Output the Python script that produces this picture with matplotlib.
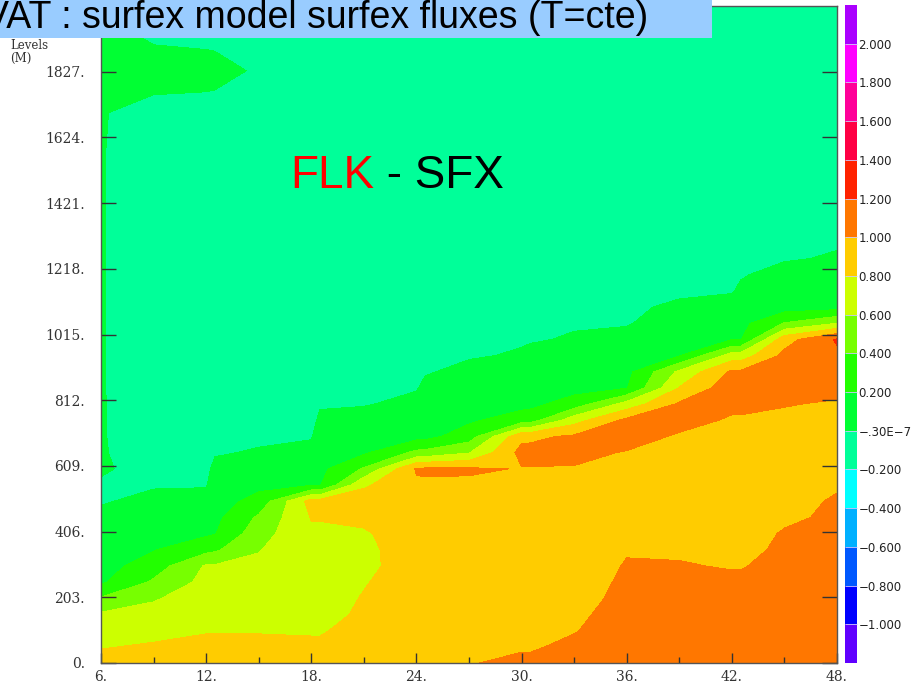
import matplotlib
matplotlib.use("Agg")
import matplotlib.pyplot as plt
from matplotlib.patches import Rectangle
import numpy as np

# forecast hours of the output columns
hours = [6, 9, 12, 12.5, 15, 18, 18.5, 21, 24, 24.5, 27, 30, 30.5, 33, 36, 39, 42, 42.5, 45, 48]

# model heights (m), bottom to top
heights = [0, 50, 100, 150, 200, 250, 300, 350, 400, 450, 500, 550, 600, 650, 700,
           750, 800, 850, 900, 950, 1000, 1050, 1100, 1150, 1200, 1250, 1300,
           1400, 1550, 1700, 1830, 1950, 2030]

# FLK - SFX difference, one profile per forecast hour (same order as hours)
diff = [
    [0.86, 0.79, 0.72, 0.63, 0.42, 0.17, 0.12, 0.09, 0.06, 0.03, -0.01, -0.01, 0.01, 0.01, 0.01, 0.01, 0.01,
     0.01, 0.01, 0.01, 0.01, 0.01, 0.01, 0.01, 0.01, 0.01, 0.01, 0.01, 0.01, 0.01, 0.10, 0.06, 0.03],
    [0.87, 0.82, 0.75, 0.67, 0.58, 0.43, 0.30, 0.19, 0.14, 0.08, 0.03, -0.01, -0.03, -0.06, -0.08, -0.09, -0.09,
     -0.10, -0.11, -0.11, -0.12, -0.12, -0.12, -0.12, -0.12, -0.12, -0.12, -0.12, -0.12, -0.06, 0.08, -0.04, -0.08],
    [0.88, 0.84, 0.79, 0.75, 0.71, 0.66, 0.62, 0.34, 0.17, 0.11, 0.05, -0.01, -0.03, -0.06, -0.08, -0.09, -0.09,
     -0.10, -0.11, -0.11, -0.12, -0.12, -0.12, -0.12, -0.12, -0.12, -0.12, -0.12, -0.12, -0.06, 0.06, -0.05, -0.09],
    [0.88, 0.84, 0.79, 0.75, 0.71, 0.67, 0.62, 0.37, 0.19, 0.15, 0.11, 0.07, 0.03, -0.01, -0.03, -0.05, -0.07,
     -0.08, -0.09, -0.09, -0.10, -0.10, -0.11, -0.11, -0.11, -0.12, -0.12, -0.12, -0.12, -0.06, 0.05, -0.05, -0.09],
    [0.88, 0.84, 0.79, 0.75, 0.72, 0.68, 0.64, 0.59, 0.52, 0.43, 0.27, 0.15, 0.08, 0.01, -0.02, -0.04, -0.06,
     -0.07, -0.08, -0.08, -0.09, -0.09, -0.10, -0.10, -0.10, -0.11, -0.11, -0.11, -0.11, -0.11, -0.02, -0.08, -0.10],
    [0.86, 0.82, 0.79, 0.76, 0.73, 0.70, 0.72, 0.75, 0.77, 0.81, 0.88, 0.19, 0.12, 0.04, -0.01, -0.03, -0.05,
     -0.06, -0.07, -0.07, -0.08, -0.08, -0.09, -0.09, -0.09, -0.10, -0.10, -0.10, -0.10, -0.10, -0.10, -0.10, -0.10],
    [0.86, 0.82, 0.79, 0.76, 0.73, 0.70, 0.72, 0.75, 0.77, 0.81, 0.88, 0.19, 0.15, 0.11, 0.06, 0.02, -0.01,
     -0.03, -0.05, -0.06, -0.07, -0.07, -0.08, -0.09, -0.09, -0.10, -0.10, -0.10, -0.10, -0.10, -0.10, -0.10, -0.10],
    [0.87, 0.85, 0.84, 0.82, 0.81, 0.79, 0.76, 0.76, 0.78, 0.84, 0.91, 0.77, 0.42, 0.17, 0.11, 0.06, -0.01,
     -0.02, -0.03, -0.05, -0.06, -0.06, -0.07, -0.08, -0.08, -0.09, -0.09, -0.10, -0.10, -0.10, -0.10, -0.10, -0.10],
    [0.90, 0.90, 0.89, 0.89, 0.88, 0.88, 0.88, 0.89, 0.90, 0.91, 0.92, 0.97, 1.02, 0.45, 0.13, 0.10, 0.04,
     -0.01, -0.02, -0.04, -0.05, -0.05, -0.06, -0.07, -0.07, -0.08, -0.08, -0.09, -0.09, -0.10, -0.10, -0.10, -0.10],
    [0.90, 0.90, 0.89, 0.89, 0.88, 0.88, 0.88, 0.89, 0.90, 0.91, 0.92, 0.97, 1.03, 0.46, 0.14, 0.12, 0.08,
     0.03, -0.01, -0.03, -0.05, -0.05, -0.06, -0.07, -0.07, -0.08, -0.08, -0.09, -0.09, -0.10, -0.10, -0.10, -0.10],
    [0.99, 0.95, 0.90, 0.89, 0.89, 0.88, 0.88, 0.89, 0.90, 0.91, 0.92, 0.96, 1.03, 0.59, 0.30, 0.17, 0.12,
     0.08, 0.03, -0.01, -0.02, -0.04, -0.05, -0.05, -0.06, -0.06, -0.07, -0.08, -0.08, -0.08, -0.09, -0.09, -0.09],
    [1.04, 0.98, 0.92, 0.91, 0.90, 0.90, 0.89, 0.90, 0.91, 0.92, 0.93, 0.96, 0.99, 1.06, 0.95, 0.30, 0.14,
     0.11, 0.06, 0.01, -0.01, -0.03, -0.04, -0.04, -0.05, -0.05, -0.06, -0.07, -0.07, -0.07, -0.08, -0.08, -0.08],
    [1.04, 0.98, 0.92, 0.91, 0.90, 0.90, 0.89, 0.90, 0.91, 0.92, 0.93, 0.96, 0.99, 1.06, 0.96, 0.31, 0.15,
     0.12, 0.08, 0.03, -0.01, -0.02, -0.03, -0.04, -0.04, -0.05, -0.05, -0.06, -0.06, -0.07, -0.07, -0.08, -0.08],
    [1.08, 1.04, 0.99, 0.96, 0.92, 0.92, 0.92, 0.92, 0.92, 0.94, 0.96, 0.97, 0.99, 1.04, 1.03, 0.72, 0.29,
     0.13, 0.10, 0.06, 0.01, -0.01, -0.02, -0.03, -0.04, -0.04, -0.05, -0.06, -0.06, -0.07, -0.07, -0.08, -0.08],
    [1.15, 1.13, 1.10, 1.08, 1.06, 1.03, 1.01, 0.99, 0.96, 0.93, 0.93, 0.93, 0.93, 0.99, 1.07, 1.05, 0.68,
     0.19, 0.14, 0.09, 0.04, -0.01, -0.01, -0.02, -0.03, -0.04, -0.04, -0.05, -0.05, -0.06, -0.06, -0.07, -0.07],
    [1.18, 1.15, 1.12, 1.09, 1.06, 1.03, 1.01, 0.98, 0.95, 0.93, 0.94, 0.94, 0.94, 0.95, 0.98, 1.06, 1.03,
     0.81, 0.64, 0.19, 0.13, 0.07, 0.01, -0.01, -0.01, -0.02, -0.03, -0.04, -0.04, -0.04, -0.05, -0.05, -0.06],
    [1.20, 1.17, 1.13, 1.10, 1.06, 1.03, 0.99, 0.97, 0.95, 0.93, 0.93, 0.94, 0.94, 0.95, 0.95, 0.98, 1.04,
     1.12, 1.03, 0.69, 0.19, 0.12, 0.05, -0.01, -0.01, -0.02, -0.02, -0.03, -0.04, -0.04, -0.04, -0.05, -0.05],
    [1.20, 1.17, 1.13, 1.10, 1.06, 1.03, 0.99, 0.97, 0.95, 0.93, 0.93, 0.94, 0.94, 0.95, 0.95, 0.98, 1.04,
     1.12, 1.03, 0.69, 0.19, 0.14, 0.08, 0.02, -0.01, -0.01, -0.02, -0.03, -0.04, -0.04, -0.04, -0.05, -0.05],
    [1.17, 1.15, 1.13, 1.11, 1.09, 1.07, 1.05, 1.02, 1.01, 0.98, 0.97, 0.95, 0.93, 0.94, 0.95, 0.96, 1.01,
     1.10, 1.12, 1.05, 0.92, 0.41, 0.11, 0.08, 0.04, -0.01, -0.01, -0.02, -0.02, -0.03, -0.03, -0.04, -0.04],
    [1.15, 1.14, 1.12, 1.11, 1.09, 1.08, 1.07, 1.05, 1.04, 1.02, 1.01, 0.99, 0.98, 0.96, 0.94, 0.96, 0.98,
     1.05, 1.12, 1.17, 1.22, 0.60, 0.12, 0.08, 0.05, 0.01, -0.01, -0.01, -0.02, -0.02, -0.03, -0.03, -0.03],
]

# contour bands (one colour per interval, the outer two are open-ended)
levels = [-1.2, -1.0, -0.8, -0.6, -0.4, -0.2, 0.0, 0.2, 0.4, 0.6, 0.8,
          1.0, 1.2, 1.4, 1.6, 1.8, 2.0, 2.2]
band_colors = ["#6000ff", "#0000ff", "#0058ff", "#00b0ff", "#00ffff", "#00ff99",
               "#00ff33", "#22ff00", "#77ff00", "#ccff00", "#ffcc00", "#ff7700",
               "#ff2200", "#ff0044", "#ff0099", "#ff00ff", "#aa00ff"]
cbar_ticks = [-1.0, -0.8, -0.6, -0.4, -0.2, 0.0, 0.2, 0.4, 0.6, 0.8,
              1.0, 1.2, 1.4, 1.6, 1.8, 2.0]
cbar_labels = ["\u22121.000", "\u22120.800", "\u22120.600", "\u22120.400", "\u22120.200",
               "\u2212.30E\u22127", "0.200", "0.400", "0.600", "0.800",
               "1.000", "1.200", "1.400", "1.600", "1.800", "2.000"]

y_ticks = [0, 203, 406, 609, 812, 1015, 1218, 1421, 1624, 1827]
y_labels = ["0.", "203.", "406.", "609.", "812.", "1015.", "1218.", "1421.", "1624.", "1827."]
x_ticks = [6, 12, 18, 24, 30, 36, 42, 48]
x_labels = ["6.", "12.", "18.", "24.", "30.", "36.", "42.", "48."]
x_minor = [9, 15, 21, 27, 33, 39, 45]

W, H = 916, 692
fig = plt.figure(figsize=(W / 100, H / 100), dpi=100)
fig.patch.set_facecolor("white")

ax = fig.add_axes([101 / W, 1 - 663 / H, 736 / W, 657 / H])
Z = np.array(diff).T
cs = ax.contourf(hours, heights, Z, levels=levels, colors=band_colors)
ax.set_xlim(6, 48)
ax.set_ylim(0, 2030)

tick_font = dict(family="DejaVu Serif", size=10, color="#333333")
ax.set_xticks(x_ticks)
ax.set_xticklabels(x_labels, fontdict=tick_font)
ax.set_xticks(x_minor, minor=True)
ax.set_yticks(y_ticks)
ax.set_yticklabels(y_labels, fontdict=tick_font)
ax.tick_params(axis="x", which="major", direction="in", length=7, width=1,
               color="#333333", pad=5)
ax.tick_params(axis="x", which="minor", direction="in", length=4, width=1,
               color="#333333")
ax.tick_params(axis="y", which="major", direction="in", length=11, width=1,
               color="#333333", right=True, pad=11.5)
for sp in ax.spines.values():
    sp.set_color("#555555")
    sp.set_linewidth(1.0)

# colour bar on the right
cax = fig.add_axes([845 / W, 1 - 663 / H, 12 / W, 658 / H])
cbar = fig.colorbar(cs, cax=cax, ticks=cbar_ticks, drawedges=True)
cbar.outline.set_visible(False)
cbar.dividers.set_color("#d0c8ff")
cbar.dividers.set_linewidth(0.6)
cbar.ax.set_yticklabels(cbar_labels, family="DejaVu Sans", size=8.5, color="#222222")
cbar.ax.tick_params(length=0, pad=1)

# header band, the title runs off the left edge
fig.patches.append(Rectangle((0, 1 - 38 / H), 712 / W, 38 / H, transform=fig.transFigure,
                             facecolor="#99ccff", edgecolor="none", zorder=5))
fig.text(648 / W, 1 - 28 / H, "SVAT : surfex model surfex fluxes (T=cte)",
         ha="right", va="baseline", family="Liberation Sans", size=27,
         color="black", zorder=6)

fig.text(10 / W, 1 - 39 / H, "Levels\n(M)", ha="left", va="top",
         family="DejaVu Serif", size=8.5, color="#333333", linespacing=1.0)

# experiment label
t1 = fig.text(290 / W, 1 - 188 / H, "FLK", ha="left", va="baseline",
              family="Liberation Sans", size=33, color="#ff0000")
renderer = fig.canvas.get_renderer()
bb = t1.get_window_extent(renderer)
fig.text(bb.x1 / W, 1 - 188 / H, " - SFX", ha="left", va="baseline",
         family="Liberation Sans", size=33, color="black")

fig.savefig("out.png", dpi=100)
